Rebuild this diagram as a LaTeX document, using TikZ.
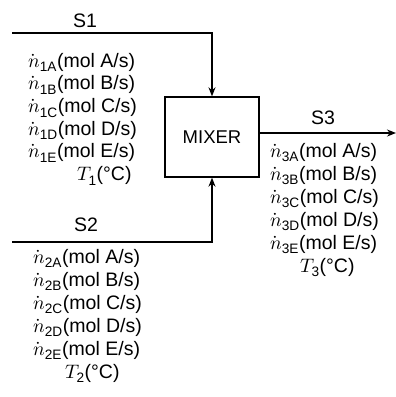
\documentclass[tikz,border=0pt]{standalone}
\usepackage{amsmath}
\usepackage{unicode-math}
\setmainfont{Liberation Sans}
\setmathfont{Latin Modern Math}
\usetikzlibrary{arrows.meta}
\newcommand\ndot[1]{$\dot{n}_{\text{#1}}$}
\newcommand\tmpr[1]{$T_{\text{#1}}$}
\tikzset{
  lbl/.style={font=\fontsize{19.5}{22}\selectfont, inner sep=0pt},
  col/.style={inner sep=0pt, align=left, anchor=base west},
  stream/.style={line width=1.8pt, -{Stealth[length=9pt,width=7pt]}},
  unit/.style={draw, line width=1.3pt, minimum width=94pt, minimum height=80pt, inner sep=0pt, font=\fontsize{18.5}{22}\selectfont}
}
\begin{document}
\begin{tikzpicture}[x=1pt,y=-1pt]
\useasboundingbox (0,0) rectangle (396,397);
\node[unit] (mixer) at (212,137) {MIXER};
\coordinate (s1start) at (12,33);
\coordinate (s2start) at (12,242);
\coordinate (s3end) at (396,133);
\draw[stream] (s1start) -| (mixer.north);
\draw[stream] (s2start) -| (mixer.south);
\draw[stream] ([yshift=4pt]mixer.east) -- (s3end);
\node[lbl] (S1) at (85,21) {S1};
\node[lbl] (S2) at (86,225) {S2};
\node[lbl] (S3) at (323,118) {S3};
\node[col, font=\fontsize{19.5}{22.7}\selectfont] (c1) at (28,180.5)
  {\ndot{1A}(mol A/s)\\ \ndot{1B}(mol B/s)\\ \ndot{1C}(mol C/s)\\ \ndot{1D}(mol D/s)\\ \ndot{1E}(mol E/s)\\ \hspace*{49pt}\tmpr{1}(°C)};
\node[col, font=\fontsize{19.5}{23}\selectfont] (c2) at (33,378)
  {\ndot{2A}(mol A/s)\\ \ndot{2B}(mol B/s)\\ \ndot{2C}(mol C/s)\\ \ndot{2D}(mol D/s)\\ \ndot{2E}(mol E/s)\\ \hspace*{32pt}\tmpr{2}(°C)};
\node[col, font=\fontsize{19.5}{23}\selectfont] (c3) at (270,272)
  {\ndot{3A}(mol A/s)\\ \ndot{3B}(mol B/s)\\ \ndot{3C}(mol C/s)\\ \ndot{3D}(mol D/s)\\ \ndot{3E}(mol E/s)\\ \hspace*{30pt}\tmpr{3}(°C)};
\end{tikzpicture}
\end{document}
